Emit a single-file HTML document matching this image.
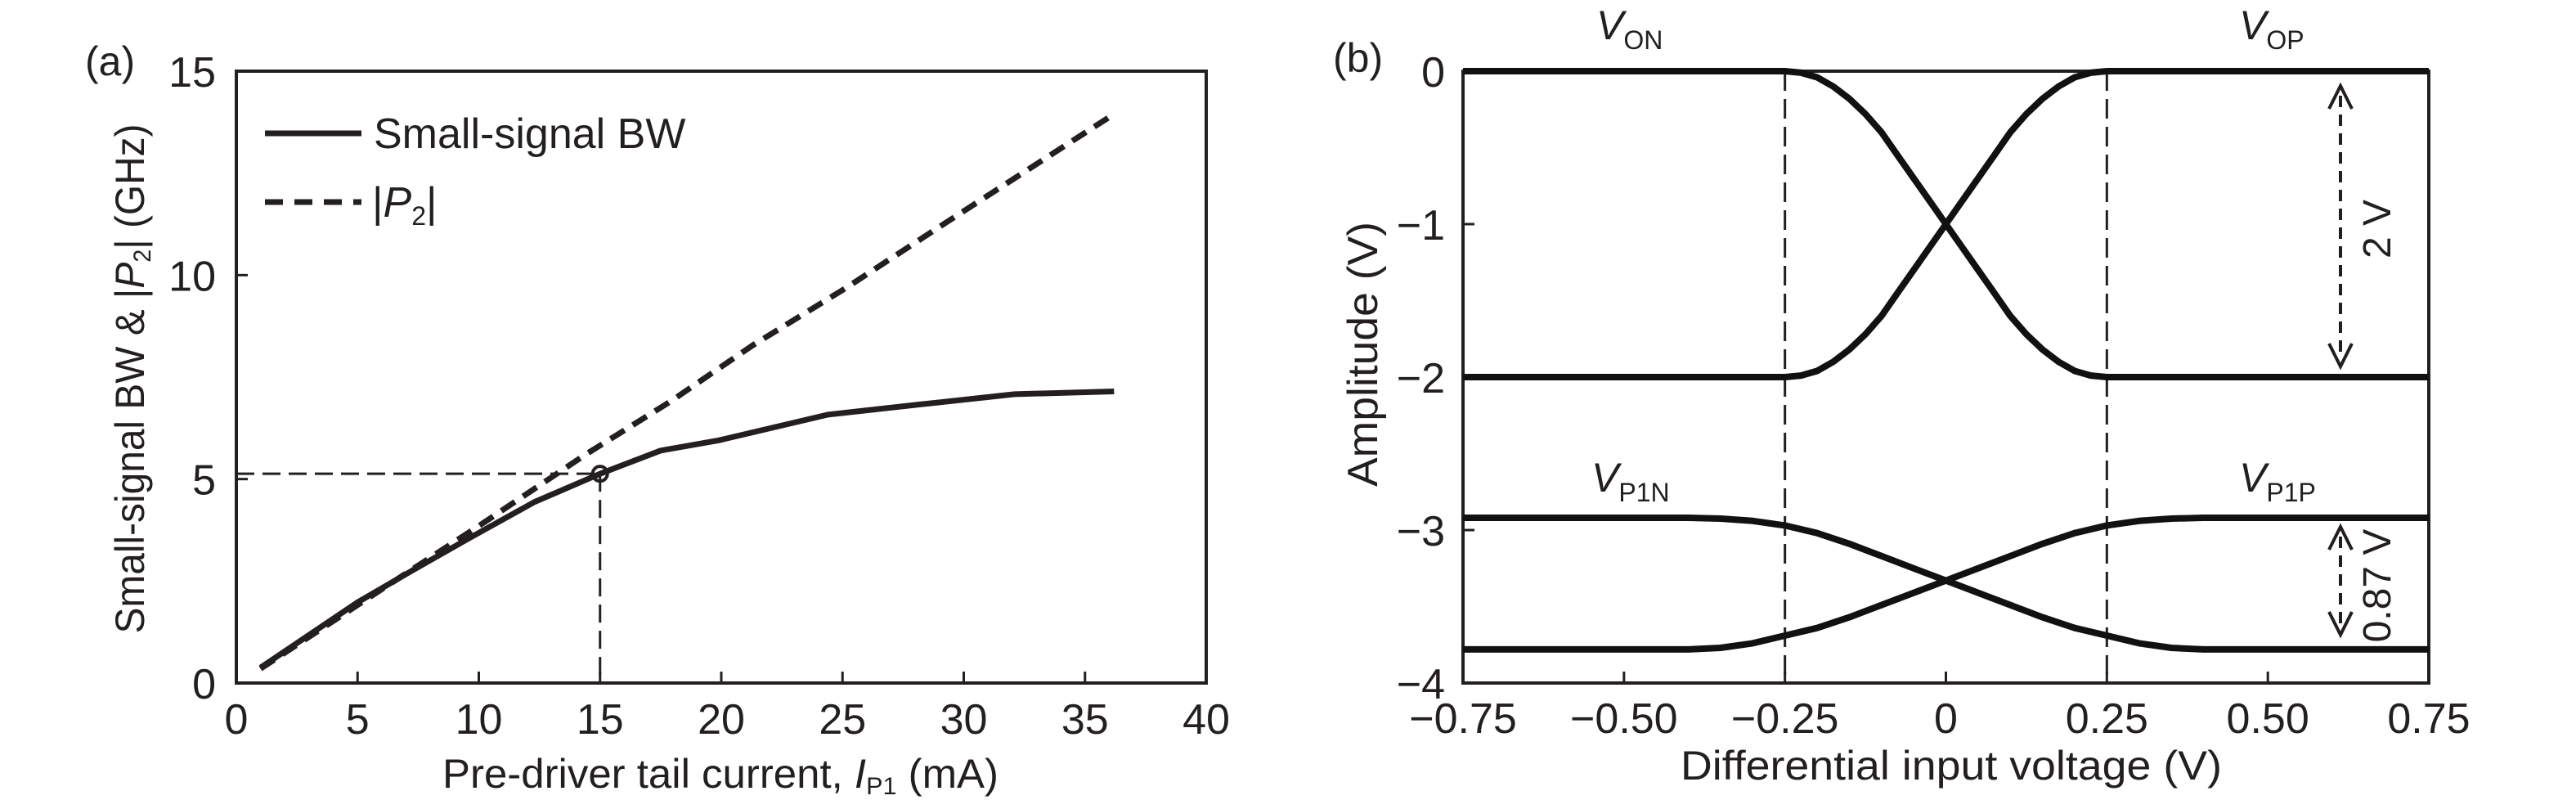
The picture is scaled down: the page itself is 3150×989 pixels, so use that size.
<!DOCTYPE html>
<html><head><meta charset="utf-8"><style>
html,body{margin:0;padding:0;background:#fff;}
svg{display:block;font-family:"Liberation Sans",sans-serif;fill:#231f20;}
</style></head><body>
<svg id="fig" width="3150" height="989" viewBox="0 0 3150 989" xmlns="http://www.w3.org/2000/svg">
<g id="pa"></g>
<g id="pb"></g>
</svg>
<script>
// Panel (a) data
const aBwX = [1, 5, 7.2, 9.6, 12.3, 15, 17.5, 19.9, 24.4, 28.2, 32.1, 36.2];
const aBwY = [0.38, 1.98, 2.74, 3.55, 4.44, 5.13, 5.70, 5.95, 6.58, 6.83, 7.08, 7.15];
const aP2X = [1, 6, 10, 14.4, 17.9, 21.3, 25.1, 29.3, 36.2];
const aP2Y = [0.35, 2.3, 3.85, 5.6, 6.9, 8.28, 9.67, 11.3, 13.95];
const aMarkX = [15];
const aMarkY = [5.13];
const aXTicks = [0, 5, 10, 15, 20, 25, 30, 35, 40];
const aYTicks = [0, 5, 10, 15];
// Panel (b) data
const bX = [-0.75, -0.25, -0.225, -0.2, -0.175, -0.15, -0.125, -0.1, -0.075, -0.05, -0.025, 0, 0.025, 0.05, 0.075, 0.1, 0.125, 0.15, 0.175, 0.2, 0.225, 0.25, 0.75];
const bVon = [0, 0, -0.01, -0.04, -0.1, -0.18, -0.28, -0.4, -0.55, -0.7, -0.85, -1, -1.15, -1.3, -1.45, -1.6, -1.72, -1.82, -1.9, -1.96, -1.99, -2, -2];
const bVop = [-2, -2, -1.99, -1.96, -1.9, -1.82, -1.72, -1.6, -1.45, -1.3, -1.15, -1, -0.85, -0.7, -0.55, -0.4, -0.28, -0.18, -0.1, -0.04, -0.01, 0, 0];
const bPX = [-0.75, -0.4, -0.35, -0.3, -0.25, -0.2, -0.15, -0.1, -0.05, 0, 0.05, 0.1, 0.15, 0.2, 0.25, 0.3, 0.35, 0.4, 0.75];
const bVp1n = [-2.92, -2.92, -2.925, -2.94, -2.97, -3.02, -3.09, -3.17, -3.25, -3.33, -3.41, -3.49, -3.57, -3.64, -3.69, -3.74, -3.77, -3.78, -3.78];
const bVp1p = [-3.78, -3.78, -3.77, -3.74, -3.69, -3.64, -3.57, -3.49, -3.41, -3.33, -3.25, -3.17, -3.09, -3.02, -2.97, -2.94, -2.925, -2.92, -2.92];
const bXTicks = [-0.75, -0.5, -0.25, 0, 0.25, 0.5, 0.75];
const bXLabels = ["\u22120.75", "\u22120.50", "\u22120.25", "0", "0.25", "0.50", "0.75"];
const bYTicks = [0, -1, -2, -3, -4];
const bYLabels = ["0", "\u22121", "\u22122", "\u22123", "\u22124"];
const bGuides = [-0.25, 0.25];

const NS = "http://www.w3.org/2000/svg";
function mk(parent, tag, attrs, text) {
  const e = document.createElementNS(NS, tag);
  for (const k in attrs) e.setAttribute(k, attrs[k]);
  if (text !== undefined) e.textContent = text;
  parent.appendChild(e);
  return e;
}
function pathFrom(xs, ys, sx, sy) {
  return xs.map((x, i) => (i ? "L" : "M") + sx(x).toFixed(1) + " " + sy(ys[i]).toFixed(1)).join(" ");
}

// ===== Panel A =====
const pa = document.getElementById("pa");
const aL = 289, aR = 1475, aT = 87, aB = 835;
const ax = v => aL + (v - 0) / 40 * (aR - aL);
const ay = v => aB - (v - 0) / 15 * (aB - aT);

let e;
e = mk(pa, "rect", {x: aL, y: aT, width: aR - aL, height: aB - aT, fill: "none", stroke: "#231f20", "stroke-width": 4});


aXTicks.forEach(t => {
  e = mk(pa, "line", {x1: ax(t), x2: ax(t), y1: aB, y2: aB - 14, stroke: "#231f20", "stroke-width": 3});
  
  
  e = mk(pa, "text", {x: ax(t), y: 897, "text-anchor": "middle", "font-size": 52}, String(t));
  
  
});
aYTicks.forEach(t => {
  e = mk(pa, "line", {x1: aL, x2: aL + 14, y1: ay(t), y2: ay(t), stroke: "#231f20", "stroke-width": 3});
  
  
  e = mk(pa, "text", {x: 264, y: ay(t) + 19, "text-anchor": "end", "font-size": 52}, String(t));
  
  
});
e = mk(pa, "line", {x1: aL, x2: ax(aMarkX[0]), y1: ay(aMarkY[0]), y2: ay(aMarkY[0]), stroke: "#231f20", "stroke-width": 3, "stroke-dasharray": "22 10"});


e = mk(pa, "line", {x1: ax(aMarkX[0]), x2: ax(aMarkX[0]), y1: ay(aMarkY[0]), y2: aB, stroke: "#231f20", "stroke-width": 3, "stroke-dasharray": "22 10"});


e = mk(pa, "path", {d: pathFrom(aP2X, aP2Y, ax, ay), fill: "none", stroke: "#231f20", "stroke-width": 7, "stroke-dasharray": "20 12"});


e = mk(pa, "path", {d: pathFrom(aBwX, aBwY, ax, ay), fill: "none", stroke: "#231f20", "stroke-width": 7, "stroke-linejoin": "round"});


e = mk(pa, "circle", {cx: ax(aMarkX[0]), cy: ay(aMarkY[0]), r: 9, fill: "none", stroke: "#231f20", "stroke-width": 4});


e = mk(pa, "line", {x1: 324, x2: 442, y1: 163, y2: 163, stroke: "#231f20", "stroke-width": 7});


e = mk(pa, "text", {x: 457, y: 181, "font-size": 52}, "Small-signal BW");


e = mk(pa, "line", {x1: 324, x2: 442, y1: 247, y2: 247, stroke: "#231f20", "stroke-width": 7, "stroke-dasharray": "22 14"});


e = mk(pa, "text", {x: 455, y: 265, "font-size": 52});


e.innerHTML = '|<tspan font-style="italic">P</tspan><tspan font-size="32" dy="10">2</tspan><tspan dy="-10">|</tspan>';
e = mk(pa, "text", {x: 0, y: 0, "text-anchor": "middle", "font-size": 50, transform: "translate(176 463) rotate(-90)", textLength: 623, lengthAdjust: "spacingAndGlyphs"});


e.innerHTML = 'Small-signal BW &amp; |<tspan font-style="italic">P</tspan><tspan font-size="30" dy="8">2</tspan><tspan dy="-8">| (GHz)</tspan>';
e = mk(pa, "text", {x: 881, y: 963, "text-anchor": "middle", "font-size": 50, textLength: 680, lengthAdjust: "spacingAndGlyphs"});


e.innerHTML = 'Pre-driver tail current, <tspan font-style="italic">I</tspan><tspan font-size="30" dy="8">P1</tspan><tspan dy="-8"> (mA)</tspan>';
e = mk(pa, "text", {x: 104, y: 92, "font-size": 50}, "(a)");



// ===== Panel B =====
const pb = document.getElementById("pb");
const bL = 1789, bR = 2970, bT = 87, bB = 835;
const bx = v => bL + (v + 0.75) / 1.5 * (bR - bL);
const by = v => bT + (0 - v) / 4 * (bB - bT);

e = mk(pb, "rect", {x: bL, y: bT, width: bR - bL, height: bB - bT, fill: "none", stroke: "#231f20", "stroke-width": 4});


bXTicks.forEach((t, i) => {
  e = mk(pb, "line", {x1: bx(t), x2: bx(t), y1: bB, y2: bB - 14, stroke: "#231f20", "stroke-width": 3});
  
  
  e = mk(pb, "text", {x: bx(t), y: 896, "text-anchor": "middle", "font-size": 52}, bXLabels[i]);
  
  
});
bYTicks.forEach((t, i) => {
  e = mk(pb, "line", {x1: bL, x2: bL + 14, y1: by(t), y2: by(t), stroke: "#231f20", "stroke-width": 3});
  
  
  e = mk(pb, "text", {x: 1767, y: by(t) + 19, "text-anchor": "end", "font-size": 52}, bYLabels[i]);
  
  
});
bGuides.forEach(g => {
  e = mk(pb, "line", {x1: bx(g), x2: bx(g), y1: bT, y2: bB, stroke: "#231f20", "stroke-width": 3, "stroke-dasharray": "24 10"});
  
  
});
[[bX, bVon, 'von-curve'], [bX, bVop, 'vop-curve'], [bPX, bVp1n, 'vp1n-curve'], [bPX, bVp1p, 'vp1p-curve']].forEach(s => {
  e = mk(pb, "path", {d: pathFrom(s[0], s[1], bx, by), fill: "none", stroke: "#111", "stroke-width": 8, "stroke-linejoin": "round"});
  
  
});
function arrow(y1, y2, name) {
  const x = 2862;
  e = mk(pb, "line", {x1: x, x2: x, y1: y1 + 12, y2: y2 - 12, stroke: "#231f20", "stroke-width": 4, "stroke-dasharray": "14 9"});
  
  
  e = mk(pb, "path", {d: `M${x-14} ${y1+28} L${x} ${y1} L${x+14} ${y1+28} M${x-14} ${y2-28} L${x} ${y2} L${x+14} ${y2-28}`, fill: "none", stroke: "#231f20", "stroke-width": 4});
  
  
}
arrow(105, 448, 'swing-2v-arrow');
arrow(644, 776, 'swing-087v-arrow');
e = mk(pb, "text", {x: 0, y: 0, "text-anchor": "middle", "font-size": 48, transform: "translate(2923 280) rotate(-90)"}, "2 V");


e = mk(pb, "text", {x: 0, y: 0, "text-anchor": "middle", "font-size": 48, transform: "translate(2923 716) rotate(-90)"}, "0.87 V");


[[1952, 48, "ON", 'von-label'], [2738, 48, "OP", 'vop-label'], [1946, 601, "P1N", 'vp1n-label'], [2738, 601, "P1P", 'vp1p-label']].forEach(l => {
  e = mk(pb, "text", {x: l[0], y: l[1], "font-size": 50});
  
  
  e.innerHTML = '<tspan font-style="italic">V</tspan><tspan font-size="32" dy="12">' + l[2] + '</tspan>';
});
e = mk(pb, "text", {x: 0, y: 0, "text-anchor": "middle", "font-size": 52, transform: "translate(1684 433) rotate(-90)", textLength: 324, lengthAdjust: "spacingAndGlyphs"}, "Amplitude (V)");


e = mk(pb, "text", {x: 2386, y: 953, "text-anchor": "middle", "font-size": 50, textLength: 662, lengthAdjust: "spacingAndGlyphs"}, "Differential input voltage (V)");


e = mk(pb, "text", {x: 1630, y: 88, "font-size": 50}, "(b)");


</script>
</body></html>
